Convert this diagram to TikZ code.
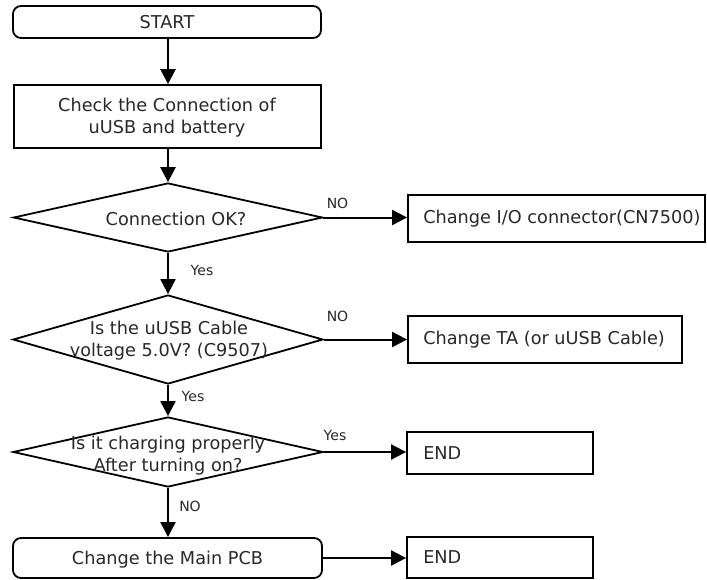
\documentclass[tikz,border=0pt]{standalone}
\usepackage{fontspec}
\setmainfont{DejaVu Sans}
\usetikzlibrary{shapes.geometric,arrows.meta}

\definecolor{ink}{RGB}{40,40,40}

\tikzset{
  every node/.style={text=ink},
  body/.style={font=\fontsize{17.7}{22}\selectfont},
  small/.style={font=\fontsize{14}{17}\selectfont, inner sep=0pt},
  stepbox/.style={draw=black, line width=1.8pt, rectangle, inner sep=0pt},
  termbox/.style={stepbox, rounded corners=8pt},
  decision/.style={draw=black, line width=1.8pt, diamond, inner sep=0pt},
  flow/.style={line width=2pt, -{Triangle[length=15pt,width=15pt]}},
  txt/.style={body, inner sep=0pt, align=center}
}

\begin{document}
\begin{tikzpicture}[x=1pt, y=-1pt]
  \useasboundingbox (0,0) rectangle (707,579);

  % main column
  \node[termbox, minimum width=308pt, minimum height=32pt] (start) at (167,22) {};
  \node[txt] at (start) {START};

  \node[stepbox, minimum width=307pt, minimum height=63pt] (check) at (167.5,116.5) {};
  \node[txt] at (167,118) {Check the Connection of\\uUSB and battery};

  \node[decision, minimum width=309pt, minimum height=69pt] (d1) at (168,217.5) {};
  \node[txt] at (176,219) {Connection OK?};

  \node[decision, minimum width=310pt, minimum height=89pt] (d2) at (168,339.5) {};
  \node[txt] at (169,341) {Is the uUSB Cable\\voltage 5.0V? (C9507)};

  \node[decision, minimum width=310pt, minimum height=70pt] (d3) at (168,452) {};
  \node[txt] at (168,455.5) {Is it charging properly\\After turning on?};

  \node[termbox, minimum width=309pt, minimum height=40pt] (pcb) at (167.5,558) {};
  \node[txt] at (167.5,560) {Change the Main PCB};

  % action boxes on the right
  \node[stepbox, minimum width=297pt, minimum height=47pt] (b1) at (556.5,218.5) {};
  \node[txt, anchor=west] at ([xshift=16pt]b1.west) {Change I/O connector(CN7500)};

  \node[stepbox, minimum width=274pt, minimum height=47pt] (b2) at (545,339.5) {};
  \node[txt, anchor=west] at ([xshift=16pt]b2.west) {Change TA (or uUSB Cable)};

  \node[stepbox, minimum width=186pt, minimum height=42pt] (e1) at (500,453) {};
  \node[txt, anchor=west] at ([xshift=17pt]e1.west) {END};

  \node[stepbox, minimum width=186pt, minimum height=41pt] (e2) at (500,557.5) {};
  \node[txt, anchor=west] at ([xshift=17pt]e2.west) {END};

  % vertical flow
  \draw[flow, line width=2.6pt] (168,0 |- start.south) -- (168,0 |- check.north);
  \draw[flow, line width=2.6pt] (168,0 |- check.south) -- (d1.north);
  \draw[flow] (d1.south) -- (d2.north);
  \draw[flow] (d2.south) -- (d3.north);
  \draw[flow] (d3.south) -- (168,0 |- pcb.north);

  % horizontal flow
  \draw[flow] (d1.east) -- (d1.east -| b1.west);
  \draw[flow] (d2.east) -- (d2.east -| b2.west);
  \draw[flow] (d3.east) -- (d3.east -| e1.west);
  \draw[flow] (pcb.east) -- (pcb.east -| e2.west);

  % branch labels
  \node[small] (no1) at (337.5,203) {NO};
  \node[small] (yes1) at (202,270) {Yes};
  \node[small] (no2) at (337.5,316) {NO};
  \node[small] (yes2) at (193,396) {Yes};
  \node[small] (yes3) at (335,435) {Yes};
  \node[small] (no3) at (190,506) {NO};
\end{tikzpicture}
\end{document}
